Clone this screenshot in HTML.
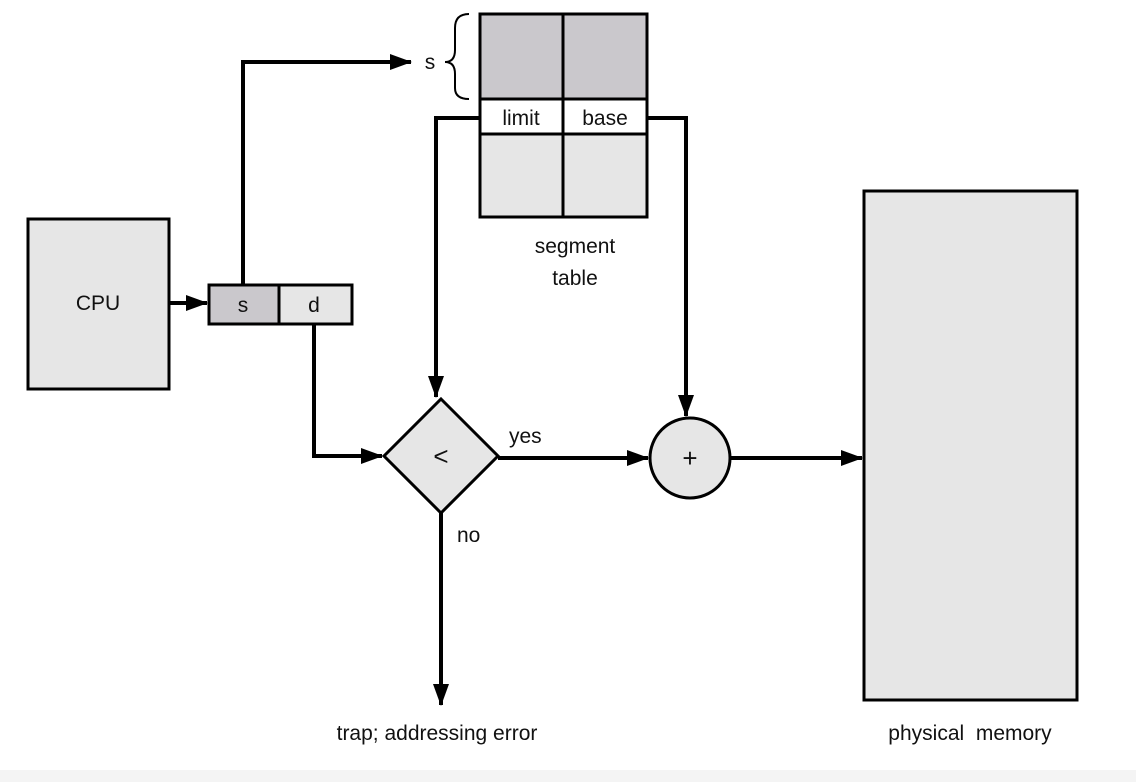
<!DOCTYPE html>
<html><head><style>
body{margin:0;background:#fff;}
svg{display:block;}
text{font-family:"Liberation Sans",sans-serif;font-size:21px;fill:#111;}
</style></head><body>
<svg width="1136" height="782" viewBox="0 0 1136 782">
<defs><marker id="a" markerWidth="24" markerHeight="16" refX="21" refY="8" orient="auto" markerUnits="userSpaceOnUse"><path d="M0,0 L22,8 L0,16 Z" fill="#000"/></marker></defs>
<rect x="0" y="770" width="1136" height="12" fill="#f4f4f4"/>
<g stroke="#000" stroke-width="3">
<rect x="28" y="219" width="141" height="170" fill="#e6e6e6"/>
<rect x="209" y="285" width="70" height="39" fill="#cac8cc"/>
<rect x="279" y="285" width="73" height="39" fill="#e6e6e6"/>
<rect x="480" y="14" width="167" height="85" fill="#cac8cc"/>
<rect x="480" y="99" width="167" height="35" fill="#fff"/>
<rect x="480" y="134" width="167" height="83" fill="#e6e6e6"/>
<line x1="563" y1="14" x2="563" y2="217"/>
<rect x="864" y="191" width="213" height="509" fill="#e6e6e6"/>
<polygon points="441,399 498,456 441,513 384,456" fill="#e6e6e6"/>
<circle cx="690" cy="458" r="40" fill="#e6e6e6"/>
</g>
<g stroke="#000" stroke-width="4" fill="none">
<line x1="169" y1="303" x2="207" y2="303" marker-end="url(#a)"/>
<polyline points="243,285 243,62 411,62" marker-end="url(#a)"/>
<polyline points="480,118 436,118 436,397" marker-end="url(#a)"/>
<polyline points="314,324 314,456 382,456" marker-end="url(#a)"/>
<polyline points="647,118 686,118 686,416" marker-end="url(#a)"/>
<line x1="498" y1="458" x2="648" y2="458" marker-end="url(#a)"/>
<line x1="730" y1="458" x2="862" y2="458" marker-end="url(#a)"/>
<line x1="441" y1="513" x2="441" y2="705" marker-end="url(#a)"/>
</g>
<path d="M469,14 Q455,14 455,28 L455,50 Q455,62 445,62 Q455,62 455,74 L455,88 Q455,99 469,99" stroke="#000" stroke-width="2" fill="none"/>
<text x="430" y="69" text-anchor="middle">s</text>
<text x="521" y="125" text-anchor="middle">limit</text>
<text x="605" y="125" text-anchor="middle">base</text>
<text x="98" y="310" text-anchor="middle">CPU</text>
<text x="243" y="312" text-anchor="middle">s</text>
<text x="314" y="312" text-anchor="middle">d</text>
<text x="575" y="253" text-anchor="middle">segment</text>
<text x="575" y="285" text-anchor="middle">table</text>
<text x="441" y="465" text-anchor="middle" style="font-size:26px">&lt;</text>
<text x="690" y="467" text-anchor="middle" style="font-size:26px">+</text>
<text x="509" y="443">yes</text>
<text x="457" y="542">no</text>
<text x="437" y="740" text-anchor="middle">trap; addressing error</text>
<text x="970" y="740" text-anchor="middle" xml:space="preserve">physical  memory</text>
</svg>
</body></html>
